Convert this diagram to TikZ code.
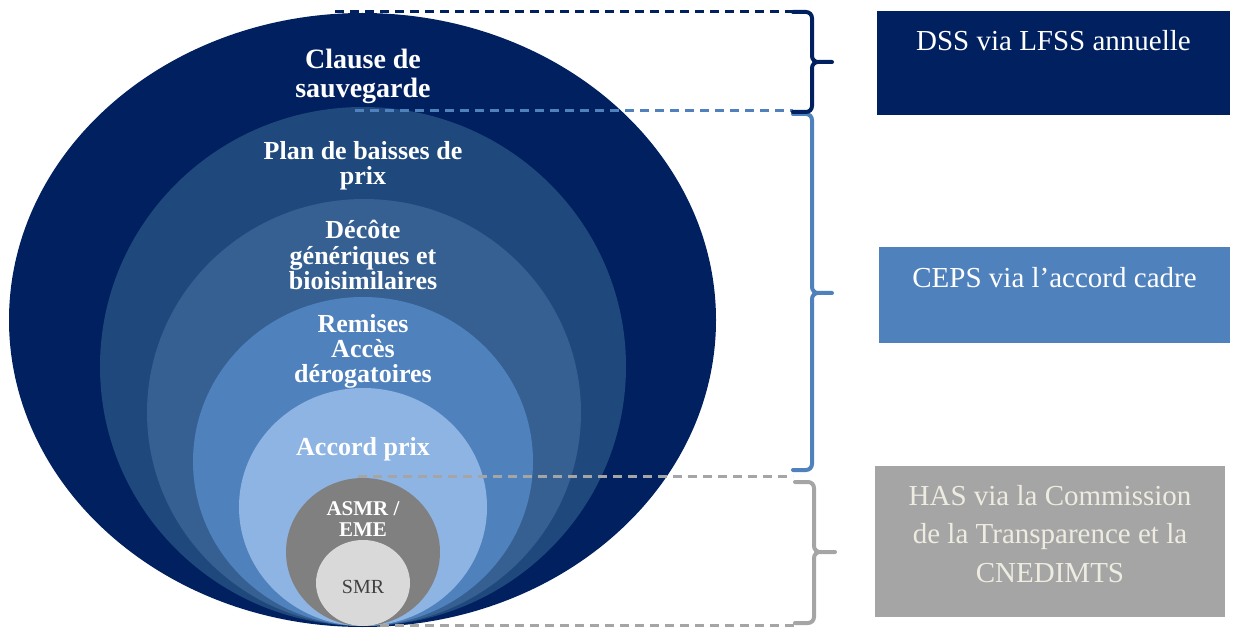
\documentclass[tikz,border=0pt]{standalone}
\usepackage{fontspec}
\setmainfont{Liberation Serif}
\definecolor{navy}{HTML}{002060}
\definecolor{ringb}{HTML}{1F497D}
\definecolor{ringc}{HTML}{366092}
\definecolor{ringd}{HTML}{4F81BD}
\definecolor{ringe}{HTML}{8DB4E2}
\definecolor{ringf}{HTML}{808080}
\definecolor{ringg}{HTML}{D9D9D9}
\definecolor{hasgray}{HTML}{A5A5A5}
\definecolor{hastext}{HTML}{EEECE1}
\tikzset{
  lbl/.style={text=white, align=center, anchor=base, inner sep=0pt,
    font=\bfseries\fontsize{26}{25.5}\selectfont},
  side/.style={text=white, anchor=north, inner xsep=0pt, inner ysep=0pt,
    align=center, font=\fontsize{29}{38.5}\selectfont},
  cut/.style={line width=3pt, dash pattern=on 9pt off 6pt},
  curly/.style={line width=4pt, line cap=round, rounded corners=6pt}
}

\begin{document}
\begin{tikzpicture}[x=1pt, y=-1pt]
    \useasboundingbox (0,0) rectangle (1235,628);

    \fill[navy]  (362.5,320) ellipse [x radius=353.5pt, y radius=307pt];
    \fill[ringb] (363,366.5) ellipse [x radius=263pt, y radius=259.5pt];
    \fill[ringc] (364,412.5) ellipse [x radius=217pt, y radius=213.5pt];
    \fill[ringd] (363,461.5) ellipse [x radius=170pt, y radius=164.5pt];
    \fill[ringe] (363,507)   ellipse [x radius=124pt, y radius=119pt];
    \fill[ringf] (363,552)   ellipse [x radius=77pt, y radius=74pt];
    \fill[ringg] (363,583)   ellipse [x radius=47pt, y radius=43pt];

    \node[lbl, font=\bfseries\fontsize{28}{29}\selectfont](sauv) at (363,98) {Clause de\\sauvegarde};
    \node[lbl](plan) at (363,185) {Plan de baisses de\\prix};
    \node[lbl](decote) at (363,290) {Décôte\\génériques et\\bioisimilaires};
    \node[lbl](remises) at (363,383) {Remises\\Accès\\dérogatoires};
    \node[lbl](accord) at (363,455) {Accord prix};
    \node[lbl, font=\bfseries\fontsize{21}{21}\selectfont](asmr) at (363,536) {ASMR /\\EME};
    \node[lbl, font=\fontsize{20}{22}\selectfont, text=black!75](smr) at (363,593) {SMR};

    \node[side, fill=navy, minimum width=353pt, text height=39pt, text depth=65pt](dss) at (1053.5,11) {DSS via LFSS annuelle};
    \node[side, fill=ringd, minimum width=351pt, text height=40pt, text depth=56pt](ceps) at (1054.5,247) {CEPS via l’accord cadre};
    \node[side, fill=hasgray, text=hastext, minimum width=350pt, text height=116pt, text depth=35pt](has) at (1050,466)
        {HAS via la Commission\\de la Transparence et la\\CNEDIMTS};

    \coordinate(topa) at (335,12);
    \coordinate(topb) at (355,111);
    \coordinate(topc) at (358,476);
    \coordinate(topd) at (380,625);
    \coordinate(dssa) at (793,12);
    \coordinate(dssb) at (793,112);
    \coordinate(dsstip) at (832,62);
    \coordinate(cepsa) at (793,114);
    \coordinate(cepsb) at (793,470);
    \coordinate(cepstip) at (832,293);
    \coordinate(hasa) at (795,482);
    \coordinate(hasb) at (795,623);
    \coordinate(hastip) at (835,552);

    \draw[cut, navy] (topa) -- (dssa);
    \draw[cut, ringd] (topb) -- (dssb |- topb);
    \draw[cut, hasgray] (topc) -- (cepsb |- topc);
    \draw[cut, hasgray] (topd) -- (hasb |- topd);

    \draw[curly, ringd] (cepsa) -- ++(19,0) |- (cepstip)
                        (cepsb) -- ++(19,0) |- (cepstip);
    \draw[curly, navy] (dssa) -- ++(19,0) |- (dsstip)
                       (dssb) -- ++(19,0) |- (dsstip);
    \draw[curly, hasgray] (hasa) -- ++(19,0) |- (hastip)
                          (hasb) -- ++(19,0) |- (hastip);
\end{tikzpicture}
\end{document}
